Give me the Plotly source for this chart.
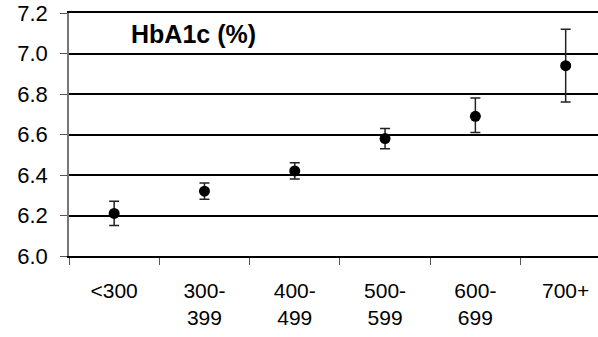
import plotly.graph_objects as go

categories = ["<300", "300-399", "400-499", "500-599", "600-699", "700+"]
tick_labels = ["<300", "300-<br>399", "400-<br>499", "500-<br>599", "600-<br>699", "700+"]
hba1c = [6.21, 6.32, 6.42, 6.58, 6.69, 6.94]
err_upper = [6.27, 6.36, 6.46, 6.63, 6.78, 7.12]
err_lower = [6.15, 6.28, 6.38, 6.53, 6.61, 6.76]
y_ticks = [6.0, 6.2, 6.4, 6.6, 6.8, 7.0, 7.2]

plus = [u - v for u, v in zip(err_upper, hba1c)]
minus = [v - l for v, l in zip(hba1c, err_lower)]

font = "Liberation Sans, Arial, sans-serif"

fig = go.Figure(go.Scatter(
    x=categories, y=hba1c, mode="markers",
    marker=dict(size=11, color="black", symbol="circle"),
    error_y=dict(type="data", symmetric=False, array=plus, arrayminus=minus,
                 color="#222222", thickness=1.5, width=5),
    showlegend=False,
))

fig.update_layout(
    width=598, height=337,
    margin=dict(l=69, r=0, t=13, b=81),
    paper_bgcolor="white", plot_bgcolor="white",
    font=dict(family=font, size=22, color="black"),
    xaxis=dict(
        type="category", categoryorder="array", categoryarray=categories,
        tickmode="array", tickvals=categories, ticktext=tick_labels,
        range=[-0.5, 5.358], tickson="boundaries",
        ticks="outside", ticklen=7, tickcolor="#555555", tickwidth=1,
        ticklabelstandoff=15,
        showline=True, linecolor="black", linewidth=1.5, mirror=True,
        showgrid=False, zeroline=False,
        tickfont=dict(family=font, size=21, color="black"),
    ),
    yaxis=dict(
        range=[6.0, 7.2], tickmode="array", tickvals=y_ticks,
        ticktext=[f"{v:.1f}" for v in y_ticks],
        ticks="outside", ticklen=7, tickcolor="#555555", tickwidth=1,
        ticklabelstandoff=8,
        showline=True, linecolor="#777777", linewidth=1.5,
        showgrid=True, gridcolor="black", gridwidth=1.5, zeroline=False,
        tickfont=dict(family=font, size=22, color="black"),
    ),
    annotations=[dict(
        text="<b>HbA1c (%)</b>", xref="paper", yref="paper",
        x=(193.5 - 69) / 529, y=(256 - 34) / 243, xanchor="center", yanchor="middle",
        showarrow=False, font=dict(family=font, size=25, color="black"),
    )],
)

fig.write_html("out.html")
